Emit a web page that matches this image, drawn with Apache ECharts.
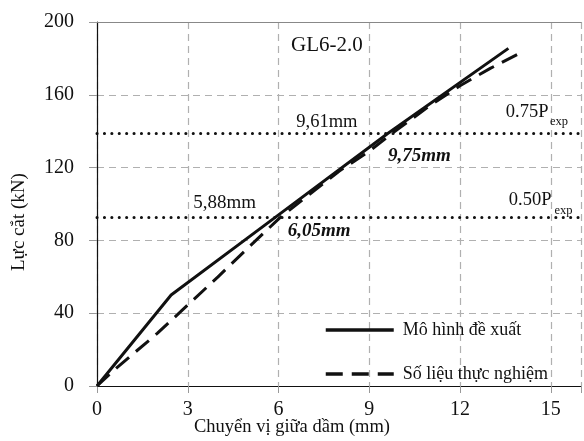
<!DOCTYPE html>
<html>
<head>
<meta charset="utf-8">
<script src="https://cdn.jsdelivr.net/npm/echarts@6/dist/echarts.min.js"></script>
<style>
  html, body { margin: 0; padding: 0; background: #fff; }
  #chart { width: 584px; height: 441px; }
</style>
</head>
<body>
<div id="chart"></div>
<script>
// du lieu doc tu hinh
var modelData = [[0, 0], [2.45, 50], [5.88, 92.5], [9.61, 138.75], [13.6, 185.5]];
var testData = [[0, 0], [0.65, 10], [2, 29], [3, 44.5], [4, 60], [5, 76], [6.05, 92.5],
                [7, 105], [8, 118], [9, 129], [9.75, 138.75], [11, 154], [12, 165], [13, 174.5], [14, 183]];
var seriesNames = ['Mô hình đề xuất', 'Số liệu thực nghiệm'];
var levelValues = [138.75, 92.5];   // 0.75Pexp, 0.50Pexp
var notes = [
    { text: 'GL6-2.0', coord: [7.6, 187], size: 21, style: 'normal', weight: 'normal' },
    { text: '9,61mm', coord: [7.6, 145], size: 18.5, style: 'normal', weight: 'normal' },
    { text: '9,75mm', coord: [10.66, 126.4], size: 19, style: 'italic', weight: 'bold' },
    { text: '5,88mm', coord: [4.22, 100.5], size: 19, style: 'normal', weight: 'normal' },
    { text: '6,05mm', coord: [7.34, 85], size: 19, style: 'italic', weight: 'bold' },
    { text: '0.75P', coord: [14.22, 150.5], size: 18.5, style: 'normal', weight: 'normal' },
    { text: 'exp', coord: [15.27, 145], size: 12.5, style: 'normal', weight: 'normal' },
    { text: '0.50P', coord: [14.32, 102], size: 18.5, style: 'normal', weight: 'normal' },
    { text: 'exp', coord: [15.42, 96.5], size: 12.5, style: 'normal', weight: 'normal' }
];

var font = "'Liberation Serif', 'DejaVu Serif', serif";
var myChart = echarts.init(document.getElementById('chart'));

var option = {
    animation: false,
    textStyle: { fontFamily: font, color: '#111' },
    grid: { left: 97, right: -4, top: 22, bottom: 55 },
    legend: {
        orient: 'vertical',
        left: 319,
        top: 316,
        itemWidth: 68,
        itemHeight: 14,
        itemGap: 26,
        data: seriesNames,
        itemStyle: { opacity: 0 },
        lineStyle: { width: 3.5 },
        textStyle: { fontFamily: font, fontSize: 18, color: '#111', padding: [0, 0, 0, 4] }
    },
    xAxis: [{
        type: 'value',
        min: 0,
        max: 16,
        interval: 3,
        axisLine: { lineStyle: { color: '#111', width: 1.2 } },
        axisTick: { show: true, length: 7, lineStyle: { color: '#999' } },
        axisLabel: {
            margin: 14,
            fontSize: 20,
            fontFamily: font,
            color: '#111',
            formatter: function (v) { return v % 3 === 0 ? String(v) : ''; }
        },
        splitLine: { show: true, lineStyle: { color: '#b0b0b0', type: [7, 5], width: 1.2 } }
    }, {
        type: 'value',
        position: 'top',
        min: 0,
        max: 16,
        axisLine: { show: true, lineStyle: { color: '#888', width: 1.2 } },
        axisTick: { show: false },
        axisLabel: { show: false },
        splitLine: { show: false }
    }],
    yAxis: {
        type: 'value',
        min: 0,
        max: 200,
        interval: 40,
        axisLine: { show: true, lineStyle: { color: '#111', width: 1.2 } },
        axisTick: { show: true, length: 8, lineStyle: { color: '#999' } },
        axisLabel: { margin: 23, fontSize: 20, fontFamily: font, color: '#111' },
        splitLine: { show: true, lineStyle: { color: '#b0b0b0', type: [7, 5], width: 1.2 } }
    },
    series: [{
        name: seriesNames[0],
        type: 'line',
        data: modelData,
        symbol: 'none',
        lineStyle: { color: '#111', width: 3 },
        itemStyle: { color: '#111' },
        z: 5,
        markLine: {
            silent: true,
            symbol: 'none',
            label: { show: false },
            lineStyle: { color: '#111', width: 3, type: [0.1, 7.3], cap: 'round' },
            data: levelValues.map(function (v) { return { yAxis: v }; })
        },
        markPoint: {
            silent: true,
            symbol: 'circle',
            symbolSize: 0,
            data: notes.map(function (n) {
                return {
                    coord: n.coord,
                    label: {
                        show: true,
                        position: 'inside',
                        formatter: n.text,
                        fontFamily: font,
                        fontSize: n.size,
                        fontStyle: n.style,
                        fontWeight: n.weight,
                        color: '#111'
                    }
                };
            })
        }
    }, {
        name: seriesNames[1],
        type: 'line',
        data: testData,
        symbol: 'none',
        lineStyle: { color: '#111', width: 3, type: [17, 9] },
        itemStyle: { color: '#111' },
        z: 4
    }],
    graphic: [{
        type: 'text',
        left: 194,
        top: 418,
        style: { text: 'Chuyển vị giữa dầm (mm)', font: "18.5px " + font, fill: '#111' }
    }, {
        type: 'text',
        x: 10,
        y: 271,
        rotation: Math.PI / 2,
        style: { text: 'Lực cắt (kN)', font: "19px " + font, fill: '#111' }
    }]
};
myChart.setOption(option);
</script>
</body>
</html>
